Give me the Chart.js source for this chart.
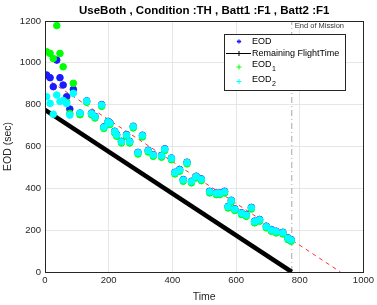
<!DOCTYPE html>
<html>
<head>
<meta charset="utf-8">
<script src="https://cdn.jsdelivr.net/npm/chart.js@4/dist/chart.umd.min.js"></script>
<style>
  html, body { margin: 0; padding: 0; background: #fff; }
  #wrap { width: 377px; height: 305px; }
</style>
</head>
<body>
<div id="wrap"><canvas id="eodChart" width="377" height="305"></canvas></div>
<script>
var fontFamily = '"Liberation Sans", Arial, Helvetica, sans-serif';

var chartTitle = 'UseBoth , Condition :TH , Batt1 :F1 , Batt2 :F1';
var xTicks = [0, 200, 400, 600, 800, 1000];
var yTicks = [0, 200, 400, 600, 800, 1000, 1200];

// time of each estimate and the three EOD estimates (sec)
var time = [5, 16, 26, 37, 47, 57, 68, 78, 89, 110, 131, 146, 157, 178, 185, 198, 204, 219, 225, 240,
            256, 266, 277, 292, 306, 324, 340, 366, 376, 397, 408, 423, 434, 446, 460, 475, 491, 517, 538, 549,
            564, 575, 585, 596, 617, 632, 648, 658, 674, 695, 711, 726, 747, 763, 773];
var eod = [942, 929, 886, 1013, 929, 894, 838, 779, 873, 760, 818, 760, 744, 800, 694, 720, 713, 673, 657, 625,
           657, 625, 697, 572, 654, 582, 561, 557, 589, 545, 477, 490, 442, 525, 434, 458, 445, 386, 378, 378,
           386, 314, 343, 302, 283, 274, 309, 243, 251, 219, 203, 195, 190, 163, 155];
var eod1 = [1053, 1045, 1021, 1178, 1045, 981, 811, 758, 902, 752, 812, 752, 736, 792, 686, 712, 705, 665, 649, 617,
            649, 617, 689, 564, 646, 574, 553, 549, 581, 537, 469, 482, 434, 517, 426, 450, 437, 378, 370, 370,
            378, 306, 335, 294, 275, 266, 301, 235, 243, 211, 195, 187, 182, 155, 147];
var eod2 = [838, 806, 754, 846, 815, 820, 805, 750, 854, 760, 817, 758, 742, 798, 692, 718, 711, 671, 655, 623,
            655, 623, 695, 570, 652, 580, 559, 555, 587, 543, 475, 488, 440, 523, 432, 456, 443, 384, 376, 376,
            384, 312, 341, 300, 281, 272, 307, 241, 249, 217, 201, 193, 188, 161, 153];

// remaining flight time line, predicted EOD trend and end of mission
var flightTimeX = [0, 775];
var flightTimeY = [775, 0];
var trendX = [0, 928];
var trendY = [928, 0];
var missionEnd = 775;

function toPoints(xs, ys) {
    return xs.map(function (x, i) { return { x: x, y: ys[i] }; });
}

var series = [
    { label: 'EOD', sub: '', color: '#1a1aff', data: eod, order: 3 },
    { label: 'EOD', sub: '1', color: '#00ff00', data: eod1, order: 1 },
    { label: 'EOD', sub: '2', color: '#00ffff', data: eod2, order: 0 }
];

var datasets = series.map(function (s) {
    return {
        label: s.label + s.sub,
        data: toPoints(time, s.data),
        showLine: false,
        pointStyle: 'circle',
        pointRadius: 3.3,
        pointBorderWidth: 1,
        borderColor: s.color,
        backgroundColor: s.color,
        order: s.order
    };
});
datasets.push({
    label: 'Remaining FlightTime',
    data: toPoints(flightTimeX, flightTimeY),
    showLine: true,
    borderColor: '#000',
    borderWidth: 4.5,
    pointRadius: 0,
    order: 2
});
datasets.push({
    label: 'trend',
    data: toPoints(trendX, trendY),
    showLine: true,
    borderColor: '#ff3030',
    borderWidth: 1,
    borderDash: [4, 4],
    pointRadius: 0,
    order: 4
});
datasets.push({
    label: 'end',
    data: toPoints([missionEnd, missionEnd], [0, 1200]),
    showLine: true,
    borderColor: '#a8a8a8',
    borderWidth: 1,
    borderDash: [6, 3, 1, 3],
    pointRadius: 0,
    order: 5
});

function drawMarker(ctx, style, x, y, r, color, width) {
    ctx.save();
    ctx.strokeStyle = color;
    ctx.lineWidth = width;
    ctx.beginPath();
    ctx.moveTo(x - r, y); ctx.lineTo(x + r, y);
    ctx.moveTo(x, y - r); ctx.lineTo(x, y + r);
    if (style === 'star') {
        var d = r * 0.7;
        ctx.moveTo(x - d, y - d); ctx.lineTo(x + d, y + d);
        ctx.moveTo(x - d, y + d); ctx.lineTo(x + d, y - d);
    }
    ctx.stroke();
    ctx.restore();
}

var decorations = {
    id: 'decorations',
    afterDraw: function (chart) {
        var ctx = chart.ctx;
        var a = chart.chartArea;
        var xs = chart.scales.x;
        ctx.save();

        // plot box
        ctx.strokeStyle = '#262626';
        ctx.lineWidth = 1;
        ctx.strokeRect(Math.round(a.left) + 0.5, Math.round(a.top) + 0.5,
            Math.round(a.right - a.left), Math.round(a.bottom - a.top));

        // title
        ctx.fillStyle = '#000';
        ctx.font = 'bold 11.5px ' + fontFamily;
        ctx.textAlign = 'center';
        ctx.textBaseline = 'middle';
        ctx.fillText(chartTitle, (a.left + a.right) / 2, 11);

        // end of mission note
        ctx.font = '7.5px ' + fontFamily;
        ctx.fillStyle = '#333';
        ctx.textAlign = 'left';
        ctx.fillText('End of Mission', xs.getPixelForValue(missionEnd) + 3, a.top + 5);

        // legend
        var bx = 224, by = 34, bw = 121, bh = 56;
        ctx.fillStyle = '#fff';
        ctx.fillRect(bx, by, bw, bh);
        ctx.strokeStyle = '#262626';
        ctx.strokeRect(bx + 0.5, by + 0.5, bw, bh);
        var mx = 239, tx = 252;
        var rows = [41.5, 53.5, 65, 79.5];
        ctx.font = '9px ' + fontFamily;
        ctx.textBaseline = 'middle';

        drawMarker(ctx, 'star', mx, rows[0], 2.2, series[0].color, 1);
        ctx.fillStyle = '#000';
        ctx.fillText('EOD', tx, rows[0]);

        ctx.strokeStyle = '#000';
        ctx.lineWidth = 1;
        ctx.beginPath();
        ctx.moveTo(226, rows[1]); ctx.lineTo(251, rows[1]);
        ctx.stroke();
        drawMarker(ctx, 'cross', mx, rows[1], 2.5, '#000', 1);
        ctx.fillText('Remaining FlightTime', tx, rows[1]);

        [1, 2].forEach(function (k, j) {
            var y = rows[2 + j];
            drawMarker(ctx, 'cross', mx, y + 2, 2.5, series[k].color, 1);
            ctx.fillStyle = '#000';
            ctx.font = '9px ' + fontFamily;
            ctx.fillText(series[k].label, tx, y);
            var w = ctx.measureText(series[k].label).width;
            ctx.font = '7px ' + fontFamily;
            ctx.fillText(series[k].sub, tx + w + 0.5, y + 4.5);
        });

        ctx.restore();
    }
};

var tickFont = { size: 9.5, family: fontFamily };
function plainTick(value) { return String(value); }

new Chart(document.getElementById('eodChart'), {
    type: 'scatter',
    data: { datasets: datasets },
    options: {
        responsive: false,
        animation: false,
        layout: { padding: { top: 21, right: 13, left: 0, bottom: 0 } },
        plugins: {
            legend: { display: false },
            title: { display: false },
            tooltip: { enabled: false }
        },
        scales: {
            x: {
                type: 'linear',
                min: 0,
                max: 1000,
                afterBuildTicks: function (scale) {
                    scale.ticks = xTicks.map(function (v) { return { value: v }; });
                },
                afterFit: function (scale) { scale.height = 33; },
                ticks: { font: tickFont, color: '#262626', padding: 3, maxRotation: 0, callback: plainTick },
                grid: { color: '#e6e6e6', drawTicks: false },
                border: { display: true, color: '#262626' },
                title: { display: true, text: 'Time', font: { size: 10.5, family: fontFamily }, color: '#262626', padding: { top: 2, bottom: 2 } }
            },
            y: {
                type: 'linear',
                min: 0,
                max: 1200,
                afterBuildTicks: function (scale) {
                    scale.ticks = yTicks.map(function (v) { return { value: v }; });
                },
                afterFit: function (scale) { scale.width = 45; },
                ticks: { font: tickFont, color: '#262626', padding: 4, callback: plainTick },
                grid: { color: '#e6e6e6', drawTicks: false },
                border: { display: true, color: '#262626' },
                title: { display: true, text: 'EOD (sec)', font: { size: 10.5, family: fontFamily }, color: '#262626', padding: { top: 2, bottom: 2 } }
            }
        }
    },
    plugins: [decorations]
});
</script>
</body>
</html>
